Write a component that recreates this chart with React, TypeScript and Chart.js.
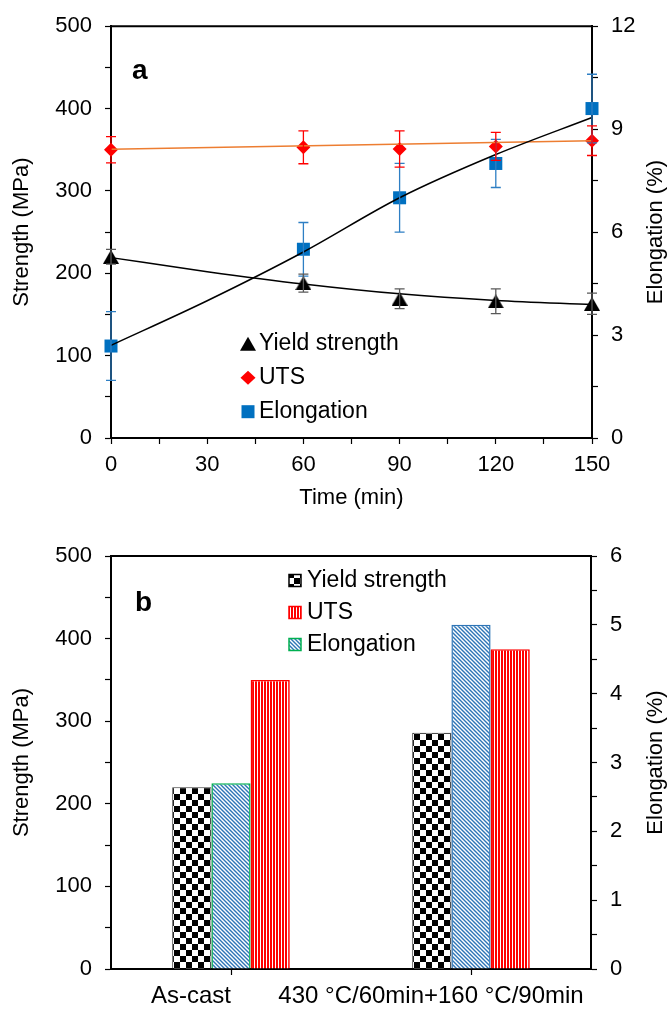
import React, { useEffect, useRef } from 'react';
import { Chart, registerables } from 'chart.js';

Chart.register(...registerables);

const FONT = "'Liberation Sans', Arial, Helvetica, sans-serif";

// ---------- Panel a data ----------
const timeMin = [0, 60, 90, 120, 150];
const yieldStrength = [220, 188, 169, 166, 163];
const yieldErr = [9, 11, 12, 15, 13];
const utsValues = [350, 353, 351, 354, 361];
const utsErr = [16, 20, 22, 17, 18];
const elongValues = [2.68, 5.5, 7.0, 8.0, 9.6];
const elongErr = [1.0, 0.78, 1.0, 0.7, 1.0];

const fitTime = [0, 30, 60, 90, 120, 150];
const yieldFit = [219, 202, 187, 175, 167, 162];
const elongFit = [2.7, 4.0, 5.42, 7.0, 8.26, 9.34];
const utsFitTime = [0, 150];
const utsFit = [350.5, 361];

const timeTicks = [0, 30, 60, 90, 120, 150];
const strengthTicks = [0, 100, 200, 300, 400, 500];
const elongTicksA = [0, 3, 6, 9, 12];

// ---------- Panel b data ----------
const conditions = ['As-cast', '430 °C/60min+160 °C/90min'];
const barYield = [220, 286];
const barUTS = [350, 387];
const barElong = [2.7, 5.0];
const elongTicksB = [0, 1, 2, 3, 4, 5, 6];

const legendA = ['Yield strength', 'UTS', 'Elongation'];
const legendB = ['Yield strength', 'UTS', 'Elongation'];

const C_BLUE = '#0070c0';
const C_BLUE_ERR = '#2e7fc4';
const C_RED = '#ff0000';
const C_ORANGE = '#ed7d31';
const C_GREEN = '#00b050';
const C_HATCH = '#2e75b6';

const TICK_GRID = { drawOnChartArea: false, drawTicks: true, tickLength: 6, tickColor: '#000', tickWidth: 1.2 };
const BORDER = { display: true, color: '#000', width: 2 };

function makeTriangleImage(): HTMLCanvasElement {
  const c = document.createElement('canvas');
  c.width = 16; c.height = 14;
  const g = c.getContext('2d')!;
  g.fillStyle = '#000';
  g.beginPath(); g.moveTo(8, 0); g.lineTo(16, 14); g.lineTo(0, 14); g.closePath(); g.fill();
  return c;
}

function makeChecker(): CanvasPattern {
  const c = document.createElement('canvas');
  c.width = 12; c.height = 12;
  const g = c.getContext('2d')!;
  g.fillStyle = '#fff'; g.fillRect(0, 0, 12, 12);
  g.fillStyle = '#000'; g.fillRect(0, 0, 6, 6); g.fillRect(6, 6, 6, 6);
  return g.createPattern(c, 'repeat')!;
}

function makeStripes(): CanvasPattern {
  const c = document.createElement('canvas');
  c.width = 3; c.height = 3;
  const g = c.getContext('2d')!;
  g.fillStyle = '#fff'; g.fillRect(0, 0, 3, 3);
  g.fillStyle = C_RED; g.fillRect(0, 0, 2, 3);
  return g.createPattern(c, 'repeat')!;
}

function makeHatch(): CanvasPattern {
  const c = document.createElement('canvas');
  c.width = 4; c.height = 4;
  const g = c.getContext('2d')!;
  g.fillStyle = '#fff'; g.fillRect(0, 0, 4, 4);
  g.strokeStyle = C_HATCH; g.lineWidth = 1.4;
  g.beginPath();
  g.moveTo(-1, -1); g.lineTo(5, 5);
  g.moveTo(-1, 3); g.lineTo(1, 5);
  g.moveTo(3, -1); g.lineTo(5, 1);
  g.stroke();
  return g.createPattern(c, 'repeat')!;
}

function drawRightTitle(chart: any, text: string) {
  const { ctx, chartArea: ca } = chart;
  ctx.save();
  ctx.translate(chart.width - 14, (ca.top + ca.bottom) / 2);
  ctx.rotate(-Math.PI / 2);
  ctx.font = `22px ${FONT}`;
  ctx.fillStyle = '#000';
  ctx.textAlign = 'center';
  ctx.textBaseline = 'middle';
  ctx.fillText(text, 0, 0);
  ctx.restore();
}

function drawTopBorder(chart: any) {
  const { ctx, chartArea: ca } = chart;
  ctx.save();
  ctx.strokeStyle = '#000';
  ctx.lineWidth = 2;
  ctx.beginPath();
  ctx.moveTo(ca.left - 1, ca.top);
  ctx.lineTo(ca.right + 1, ca.top);
  ctx.stroke();
  ctx.restore();
}

export default function App() {
  const refA = useRef<HTMLCanvasElement>(null);
  const refB = useRef<HTMLCanvasElement>(null);

  useEffect(() => {
    document.body.style.margin = '0';
    Chart.defaults.font.family = FONT;
    Chart.defaults.font.size = 22;
    Chart.defaults.color = '#000';

    const tri = makeTriangleImage();

    const errorBars = {
      id: 'errorBars',
      afterDatasetsDraw(chart: any) {
        const { ctx } = chart;
        const xs = chart.scales.x;
        const series = [
          { vals: elongValues, errs: elongErr, axis: 'y1', color: C_BLUE_ERR },
          { vals: utsValues, errs: utsErr, axis: 'y', color: C_RED },
          { vals: yieldStrength, errs: yieldErr, axis: 'y', color: '#595959' },
        ];
        ctx.save();
        ctx.lineWidth = 1.3;
        series.forEach((s) => {
          const ys = chart.scales[s.axis];
          ctx.strokeStyle = s.color;
          timeMin.forEach((t, i) => {
            const x = xs.getPixelForValue(t);
            const y1 = ys.getPixelForValue(s.vals[i] + s.errs[i]);
            const y2 = ys.getPixelForValue(s.vals[i] - s.errs[i]);
            ctx.beginPath();
            ctx.moveTo(x, y1); ctx.lineTo(x, y2);
            ctx.moveTo(x - 5, y1); ctx.lineTo(x + 5, y1);
            ctx.moveTo(x - 5, y2); ctx.lineTo(x + 5, y2);
            ctx.stroke();
          });
        });
        ctx.restore();
      },
    };

    const decorA = {
      id: 'decorA',
      afterDraw(chart: any) {
        const { ctx, chartArea: ca } = chart;
        drawTopBorder(chart);
        ctx.save();
        ctx.fillStyle = '#000';
        ctx.font = `bold 28px ${FONT}`;
        ctx.textAlign = 'left';
        ctx.textBaseline = 'alphabetic';
        ctx.fillText('a', ca.left + 21, ca.top + 52.5);
        // legend
        const mx = ca.left + 137;
        const tx = ca.left + 148;
        const rows = [ca.top + 317.5, ca.top + 351.5, ca.top + 385.5];
        ctx.fillStyle = '#000';
        ctx.beginPath();
        ctx.moveTo(mx, rows[0] - 7); ctx.lineTo(mx + 8, rows[0] + 7); ctx.lineTo(mx - 8, rows[0] + 7); ctx.closePath(); ctx.fill();
        ctx.fillStyle = C_RED;
        ctx.beginPath();
        ctx.moveTo(mx - 7.5, rows[1]); ctx.lineTo(mx, rows[1] - 7); ctx.lineTo(mx + 7.5, rows[1]); ctx.lineTo(mx, rows[1] + 7); ctx.closePath(); ctx.fill();
        ctx.fillStyle = C_BLUE;
        ctx.fillRect(mx - 6.5, rows[2] - 6.5, 13, 13);
        ctx.fillStyle = '#000';
        ctx.font = `23px ${FONT}`;
        ctx.textBaseline = 'middle';
        legendA.forEach((t, i) => ctx.fillText(t, tx, rows[i]));
        ctx.restore();
        drawRightTitle(chart, 'Elongation (%)');
      },
    };

    const pts = (xs: number[], ys: number[]) => xs.map((x, i) => ({ x, y: ys[i] }));

    const chartA = new Chart(refA.current!, {
      type: 'scatter',
      data: {
        datasets: [
          { label: 'YS fit', data: pts(fitTime, yieldFit), showLine: true, borderColor: '#000', borderWidth: 1.5, pointRadius: 0, cubicInterpolationMode: 'monotone', yAxisID: 'y', clip: false } as any,
          { label: 'Elong fit', data: pts(fitTime, elongFit), showLine: true, borderColor: '#000', borderWidth: 1.5, pointRadius: 0, cubicInterpolationMode: 'monotone', yAxisID: 'y1', clip: false } as any,
          { label: 'UTS fit', data: pts(utsFitTime, utsFit), showLine: true, borderColor: C_ORANGE, borderWidth: 1.5, pointRadius: 0, yAxisID: 'y', clip: false } as any,
          { label: 'Elongation', data: pts(timeMin, elongValues), pointStyle: 'rect', pointRadius: 9.2, backgroundColor: C_BLUE, borderWidth: 0, yAxisID: 'y1', clip: false } as any,
          { label: 'UTS', data: pts(timeMin, utsValues), pointStyle: 'rectRot', pointRadius: 7, backgroundColor: C_RED, borderWidth: 0, yAxisID: 'y', clip: false } as any,
          { label: 'Yield strength', data: pts(timeMin, yieldStrength), pointStyle: tri, pointRadius: 8, backgroundColor: '#000', borderWidth: 0, yAxisID: 'y', clip: false } as any,
        ],
      },
      options: {
        animation: false,
        responsive: false,
        maintainAspectRatio: false,
        events: [],
        layout: { padding: { top: 21, left: 0, right: 0, bottom: 0 } },
        plugins: { legend: { display: false }, tooltip: { enabled: false } },
        scales: {
          x: {
            type: 'linear', min: 0, max: 150,
            ticks: { stepSize: 15, autoSkip: false, maxRotation: 0, padding: 8, callback: (v: any) => (timeTicks.includes(Number(v)) ? String(v) : '') },
            grid: TICK_GRID, border: BORDER,
            title: { display: true, text: 'Time (min)', padding: { top: 0, bottom: 1 } },
            afterFit: (s: any) => { s.height = 74; },
          },
          y: {
            type: 'linear', position: 'left', min: 0, max: 500,
            ticks: { stepSize: 50, autoSkip: false, padding: 13, callback: (v: any) => (strengthTicks.includes(Number(v)) ? String(v) : '') },
            grid: TICK_GRID, border: BORDER,
            title: { display: true, text: 'Strength (MPa)', padding: { top: 9, bottom: 0 } },
            afterFit: (s: any) => { s.width = 111; },
          },
          y1: {
            type: 'linear', position: 'right', min: 0, max: 12,
            ticks: { stepSize: 1.5, autoSkip: false, padding: 13, callback: (v: any) => (elongTicksA.includes(Number(v)) ? String(v) : '') },
            grid: TICK_GRID, border: BORDER,
            afterFit: (s: any) => { s.width = 78; },
          },
        },
      } as any,
      plugins: [errorBars, decorA],
    });

    // ---------- Panel b ----------
    const checker = makeChecker();
    const stripes = makeStripes();
    const hatch = makeHatch();

    const decorB = {
      id: 'decorB',
      afterDraw(chart: any) {
        const { ctx, chartArea: ca } = chart;
        drawTopBorder(chart);
        ctx.save();
        ctx.fillStyle = '#000';
        ctx.font = `bold 28px ${FONT}`;
        ctx.textAlign = 'left';
        ctx.textBaseline = 'alphabetic';
        ctx.fillText('b', ca.left + 24, ca.top + 54.5);
        const bx = ca.left + 178;
        const tx = ca.left + 196;
        const rows = [ca.top + 24.5, ca.top + 56.5, ca.top + 88.5];
        const icons = [
          { fill: checker, stroke: '#000' },
          { fill: stripes, stroke: C_RED },
          { fill: hatch, stroke: C_GREEN },
        ];
        icons.forEach((ic, i) => {
          ctx.fillStyle = ic.fill;
          ctx.fillRect(bx, rows[i] - 6, 12, 12);
          ctx.strokeStyle = ic.stroke;
          ctx.lineWidth = 1.5;
          ctx.strokeRect(bx, rows[i] - 6, 12, 12);
        });
        ctx.fillStyle = '#000';
        ctx.font = `23px ${FONT}`;
        ctx.textBaseline = 'middle';
        legendB.forEach((t, i) => ctx.fillText(t, tx, rows[i]));
        ctx.restore();
        drawRightTitle(chart, 'Elongation (%)');
      },
    };

    const chartB = new Chart(refB.current!, {
      type: 'bar',
      data: {
        labels: conditions,
        datasets: [
          { label: 'Yield strength', data: barYield, backgroundColor: checker, borderColor: '#333', borderWidth: 1, yAxisID: 'y', categoryPercentage: 0.49, barPercentage: 1 } as any,
          { label: 'Elongation', data: barElong, backgroundColor: hatch, borderColor: [C_GREEN, C_HATCH], borderWidth: 1.5, yAxisID: 'y1', categoryPercentage: 0.49, barPercentage: 1 } as any,
          { label: 'UTS', data: barUTS, backgroundColor: stripes, borderColor: C_RED, borderWidth: 1.5, yAxisID: 'y', categoryPercentage: 0.49, barPercentage: 1 } as any,
        ],
      },
      options: {
        animation: false,
        responsive: false,
        maintainAspectRatio: false,
        events: [],
        layout: { padding: { top: 44, left: 0, right: 0, bottom: 0 } },
        plugins: { legend: { display: false }, tooltip: { enabled: false } },
        scales: {
          x: {
            type: 'category', offset: true,
            ticks: { autoSkip: false, maxRotation: 0, minRotation: 0, padding: 7, labelOffset: -40, font: { size: 24 } },
            grid: { ...TICK_GRID, offset: false }, border: BORDER,
            afterFit: (s: any) => { s.height = 42; },
          },
          y: {
            type: 'linear', position: 'left', min: 0, max: 500,
            ticks: { stepSize: 50, autoSkip: false, padding: 13, callback: (v: any) => (strengthTicks.includes(Number(v)) ? String(v) : '') },
            grid: TICK_GRID, border: BORDER,
            title: { display: true, text: 'Strength (MPa)', padding: { top: 9, bottom: 0 } },
            afterFit: (s: any) => { s.width = 111; },
          },
          y1: {
            type: 'linear', position: 'right', min: 0, max: 6,
            ticks: { stepSize: 0.5, autoSkip: false, padding: 13, callback: (v: any) => (elongTicksB.includes(Number(v)) ? String(v) : '') },
            grid: TICK_GRID, border: BORDER,
            afterFit: (s: any) => { s.width = 79; },
          },
        },
      } as any,
      plugins: [decorB],
    });

    return () => {
      chartA.destroy();
      chartB.destroy();
    };
  }, []);

  return (
    <div style={{ position: 'relative', width: 670, height: 1011, background: '#fff' }}>
      <canvas ref={refA} width={670} height={512} style={{ display: 'block', width: 670, height: 512 }} />
      <canvas ref={refB} width={670} height={499} style={{ display: 'block', width: 670, height: 499 }} />
    </div>
  );
}
